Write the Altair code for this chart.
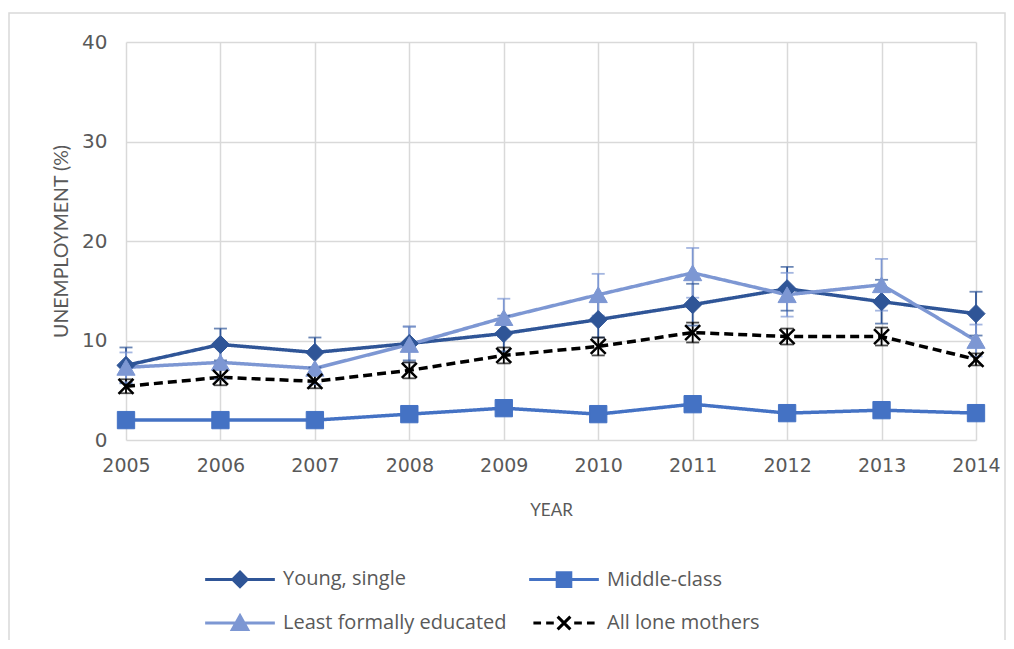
import altair as alt
import pandas as pd

years = [2005, 2006, 2007, 2008, 2009, 2010, 2011, 2012, 2013, 2014]
series_names = ["Young, single", "Middle-class", "Least formally educated", "All lone mothers"]

young = [7.5, 9.6, 8.8, 9.7, 10.7, 12.1, 13.6, 15.2, 13.9, 12.7]
young_err = [1.8, 1.6, 1.5, 1.7, 1.8, 1.8, 2.1, 2.2, 2.2, 2.2]
middle = [2.0, 2.0, 2.0, 2.6, 3.2, 2.6, 3.6, 2.7, 3.0, 2.7]
middle_err = [0.4, 0.3, 0.3, 0.4, 0.5, 0.4, 0.6, 0.4, 0.5, 0.3]
least = [7.3, 7.8, 7.2, 9.6, 12.3, 14.6, 16.8, 14.6, 15.6, 10.0]
least_err = [1.5, 1.7, 1.6, 1.8, 1.9, 2.1, 2.5, 2.2, 2.6, 1.6]
allm = [5.4, 6.3, 5.9, 7.0, 8.5, 9.4, 10.8, 10.4, 10.4, 8.1]
allm_err = [0.7, 0.8, 0.7, 0.8, 0.8, 0.9, 1.0, 0.8, 0.9, 0.6]

colors = ["#2F5597", "#4472C4", "#7D97D3", "#000000"]
dashes = [[1, 0], [1, 0], [1, 0], [9, 5]]

rows = []
for name, vals, errs in zip(series_names, [young, middle, least, allm],
                            [young_err, middle_err, least_err, allm_err]):
    for yr, v, e in zip(years, vals, errs):
        rows.append({"year": yr, "series": name, "val": v,
                     "lo": round(v - e, 2), "hi": round(v + e, 2)})
df = pd.DataFrame(rows)

TXT = "#595959"
GRID = "#D9D9D9"
FONT = "Lato"

xenc = alt.X("year:Q",
             scale=alt.Scale(domain=[2005, 2014], nice=False, zero=False),
             axis=alt.Axis(values=years, format="d", grid=True, gridColor=GRID,
                           gridWidth=1.5, domain=False, ticks=False,
                           labelFontSize=19, labelFont="DejaVu Sans", labelColor=TXT,
                           labelPadding=16, labelFlush=False, labelOverlap=False,
                           title="YEAR", titleFontSize=17, titleFont=FONT,
                           titleFontWeight="normal", titleColor=TXT, titlePadding=27))
yscale = alt.Scale(domain=[0, 40], nice=False)
yenc = alt.Y("val:Q", scale=yscale,
             axis=alt.Axis(values=[0, 10, 20, 30, 40], grid=True, gridColor=GRID,
                           gridWidth=1.5, domain=False, ticks=False,
                           labelFontSize=20, labelFont="DejaVu Sans", labelColor=TXT,
                           labelPadding=19,
                           title="UNEMPLOYMENT  (%)", titleFontSize=19.5, titleFont=FONT,
                           titleFontWeight="normal", titleColor=TXT, titlePadding=10))

# series colours for the drawn marks (domain taken from the data, ordered like series_names)
color_enc = alt.Color("series:N", sort=series_names, scale=alt.Scale(range=colors), legend=None)

base = alt.Chart(df)

lines = base.mark_line(strokeWidth=3.5).encode(
    x=xenc, y=yenc,
    color=color_enc,
    strokeDash=alt.StrokeDash("series:N", sort=series_names, scale=alt.Scale(range=dashes), legend=None),
    detail="series:N",
)

err_rules = base.mark_rule(strokeWidth=1.8).encode(
    x="year:Q",
    y=alt.Y("lo:Q", scale=yscale),
    y2="hi:Q",
    color=color_enc,
)

caps = base.transform_fold(["lo", "hi"], as_=["end", "endval"]).mark_tick(
    orient="horizontal", thickness=1.8, size=13).encode(
    x="year:Q",
    y=alt.Y("endval:Q", scale=yscale),
    color=color_enc,
)

shapes = ["diamond", "square", "triangle-up", "M-1,-1L1,1M-1,1L1,-1"]
sizes = [330, 300, 330, 225]
filled = [True, True, True, False]
swidths = [1, 1, 1, 2.5]
point_layers = []
for name, shp, sz, fl, sw, col in zip(series_names, shapes, sizes, filled, swidths, colors):
    point_layers.append(
        base.transform_filter(alt.datum.series == name).mark_point(
            shape=shp, size=sz, filled=fl, fill=col, stroke=col, strokeWidth=sw, opacity=1
        ).encode(x="year:Q", y=alt.Y("val:Q", scale=yscale))
    )

legend_paths = [
    "M-4.1,0L4.1,0M0,-0.85L0.85,0L0,0.85L-0.85,0Z",
    "M-4.1,0L4.1,0M-0.8,-0.8L0.8,-0.8L0.8,0.8L-0.8,0.8Z",
    "M-4.1,0L4.1,0M0,-0.85L0.9,0.75L-0.9,0.75Z",
    "M-3.6,0L-2.7,0M-2.1,0L-1.2,0M-0.75,-0.75L0.75,0.75M-0.75,0.75L0.75,-0.75M1.2,0L2.1,0M2.7,0L3.6,0",
]
leg = alt.Legend(title=None, orient="none", legendX=104, legendY=527, columns=2,
                 direction="horizontal",
                 columnPadding=16, rowPadding=16, symbolSize=289, symbolStrokeWidth=3,
                 labelFontSize=20, labelFont="Open Sans", labelColor=TXT, labelOffset=33,
                 labelLimit=400, symbolOpacity=1)
legend_layer = base.transform_filter("false").mark_point(filled=True, opacity=1).encode(
    x="year:Q", y=alt.Y("val:Q", scale=yscale),
    fill=alt.Fill("series:N", scale=alt.Scale(domain=series_names, range=colors), legend=leg),
    stroke=alt.Stroke("series:N", scale=alt.Scale(domain=series_names, range=colors), legend=leg),
    shape=alt.Shape("series:N", scale=alt.Scale(domain=series_names, range=legend_paths), legend=leg),
)

border = alt.Chart(alt.Data(values=[{"a": 1}])).mark_rect(
    fillOpacity=0, stroke=GRID, strokeWidth=1.5).encode(
    x=alt.value(-117), x2=alt.value(879), y=alt.value(-29), y2=alt.value(650))

chart = alt.layer(border, lines, err_rules, caps, *point_layers, legend_layer).properties(
    width=850, height=398,
    autosize=alt.AutoSizeParams(type="none"),
    padding={"left": 118, "top": 34, "right": 30, "bottom": 200},
).configure_view(strokeWidth=0)

chart.save("out.html", embed_options={"renderer": "svg", "actions": False})
